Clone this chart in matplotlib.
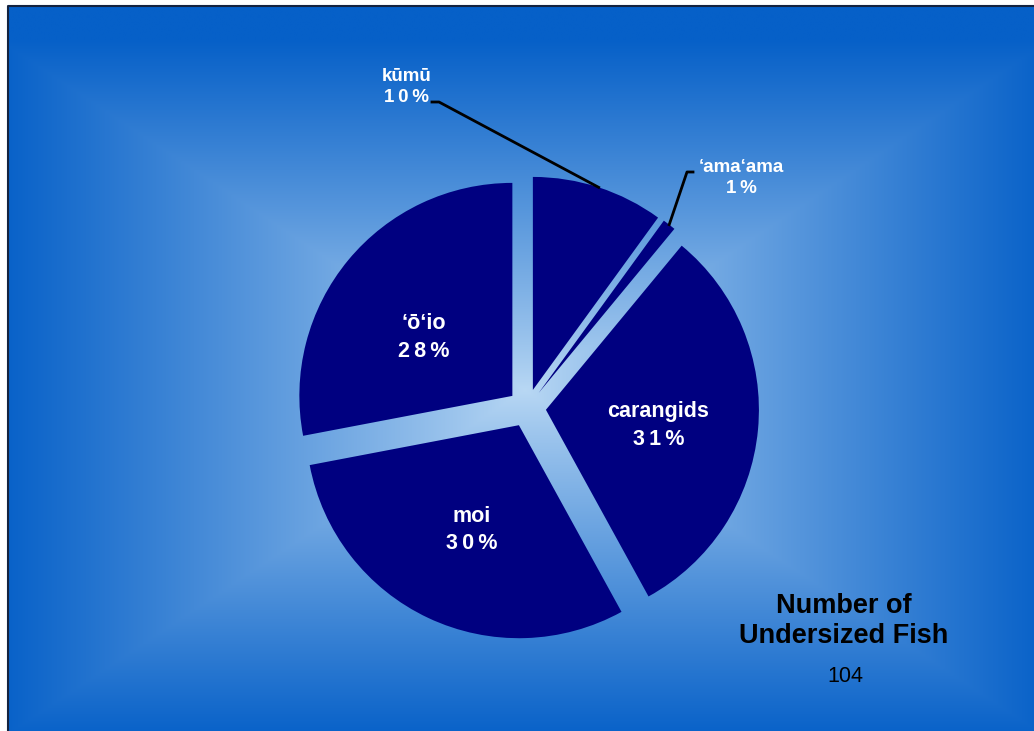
import numpy as np
import matplotlib
matplotlib.use("Agg")
import matplotlib.pyplot as plt

plt.rcParams['font.family'] = ['Liberation Sans', 'DejaVu Sans']

# data
species = ['k\u016bm\u016b', '\u2018ama\u2018ama', 'carangids', 'moi', '\u2018\u014d\u2018io']
percent = [10, 1, 31, 30, 28]
total_fish = 104
inside = [False, False, True, True, True]


def spaced(p):
    # percentages are drawn with loose letter spacing
    return '\u2009'.join(f'{p}%')


W, H = 1034, 731
fig = plt.figure(figsize=(W / 100, H / 100), dpi=100, facecolor='white')
ax = fig.add_axes([0, 0, 1, 1])
ax.set_xlim(0, W)
ax.set_ylim(0, H)
ax.axis('off')

# background: rectangular gradient, light in the middle
x0, x1, y0, y1 = 8, W, 0, H - 6
gx, gy = np.meshgrid(np.linspace(x0, x1, 600), np.linspace(y1, y0, 420))
cxb, cyb = 525, H - 390
t = np.maximum(np.abs(gx - cxb) / (cxb - x0 + 10), np.abs(gy - cyb) / (cyb + 10))
t = np.clip(t, 0, 1) ** 0.9
c_in = np.array([185, 216, 244]) / 255
c_out = np.array([6, 96, 200]) / 255
img = c_in[None, None, :] * (1 - t[..., None]) + c_out[None, None, :] * t[..., None]
ax.imshow(img, extent=(x0, x1, y0, y1), aspect='auto', zorder=0, interpolation='bilinear')
ax.plot([x0, x0, x1], [y0, y1, y1], color='#14233f', lw=1.5, zorder=1)

# pie
cx, cy, r, ex = 527, H - 408, 213, 19
wedges, _ = ax.pie(percent, startangle=90, counterclock=False, colors=['#000080'] * 5,
                   explode=[ex] * 5, radius=r, center=(cx, cy), frame=True,
                   wedgeprops=dict(linewidth=0))
for w in wedges:
    w.set_zorder(2)
ax.set_xlim(0, W)
ax.set_ylim(0, H)
ax.axis('off')

# small nudges for the labels inside the slices (pixels, y up)
nudge = [(0, 0), (0, 0), (-2, -5), (2, -1), (0, -15)]
for w, name, p, inn, (nx, ny) in zip(wedges, species, percent, inside, nudge):
    mid = np.deg2rad((w.theta1 + w.theta2) / 2)
    wx, wy = w.center
    if inn:
        d = 0.54 * r
        ax.text(wx + d * np.cos(mid) + nx, wy + d * np.sin(mid) + ny, f'{name}\n{spaced(p)}',
                ha='center', va='center', color='white', fontsize=15.5,
                fontweight='bold', linespacing=1.4, zorder=3)

# outside labels with leader lines
k = wedges[0]
km = np.deg2rad((k.theta1 + k.theta2) / 2)
kp = (k.center[0] + r * np.cos(km), k.center[1] + r * np.sin(km))
ax.text(407, H - 87, f'{species[0]}\n{spaced(percent[0])}', ha='center', va='center',
        color='white', fontsize=13.5, fontweight='bold', linespacing=1.3, zorder=3)
ax.plot([432, 439, kp[0]], [H - 102, H - 102, kp[1]], color='black', lw=2, zorder=3)

a = wedges[1]
am = np.deg2rad((a.theta1 + a.theta2) / 2)
ap = (a.center[0] + r * np.cos(am), a.center[1] + r * np.sin(am))
ax.text(741, H - 178, f'{species[1]}\n{spaced(percent[1])}', ha='center', va='center',
        color='white', fontsize=13.5, fontweight='bold', linespacing=1.3, zorder=3)
ax.plot([693, 687, ap[0]], [H - 172, H - 172, ap[1]], color='black', lw=2, zorder=3)

# total
ax.text(844, H - 621, 'Number of\nUndersized Fish', ha='center', va='center',
        color='black', fontsize=19.5, fontweight='bold', linespacing=1.22, zorder=3)
ax.text(845, H - 676, str(total_fish), ha='center', va='center',
        color='black', fontsize=15.5, zorder=3)

fig.savefig('out.png', dpi=100, facecolor='white')
